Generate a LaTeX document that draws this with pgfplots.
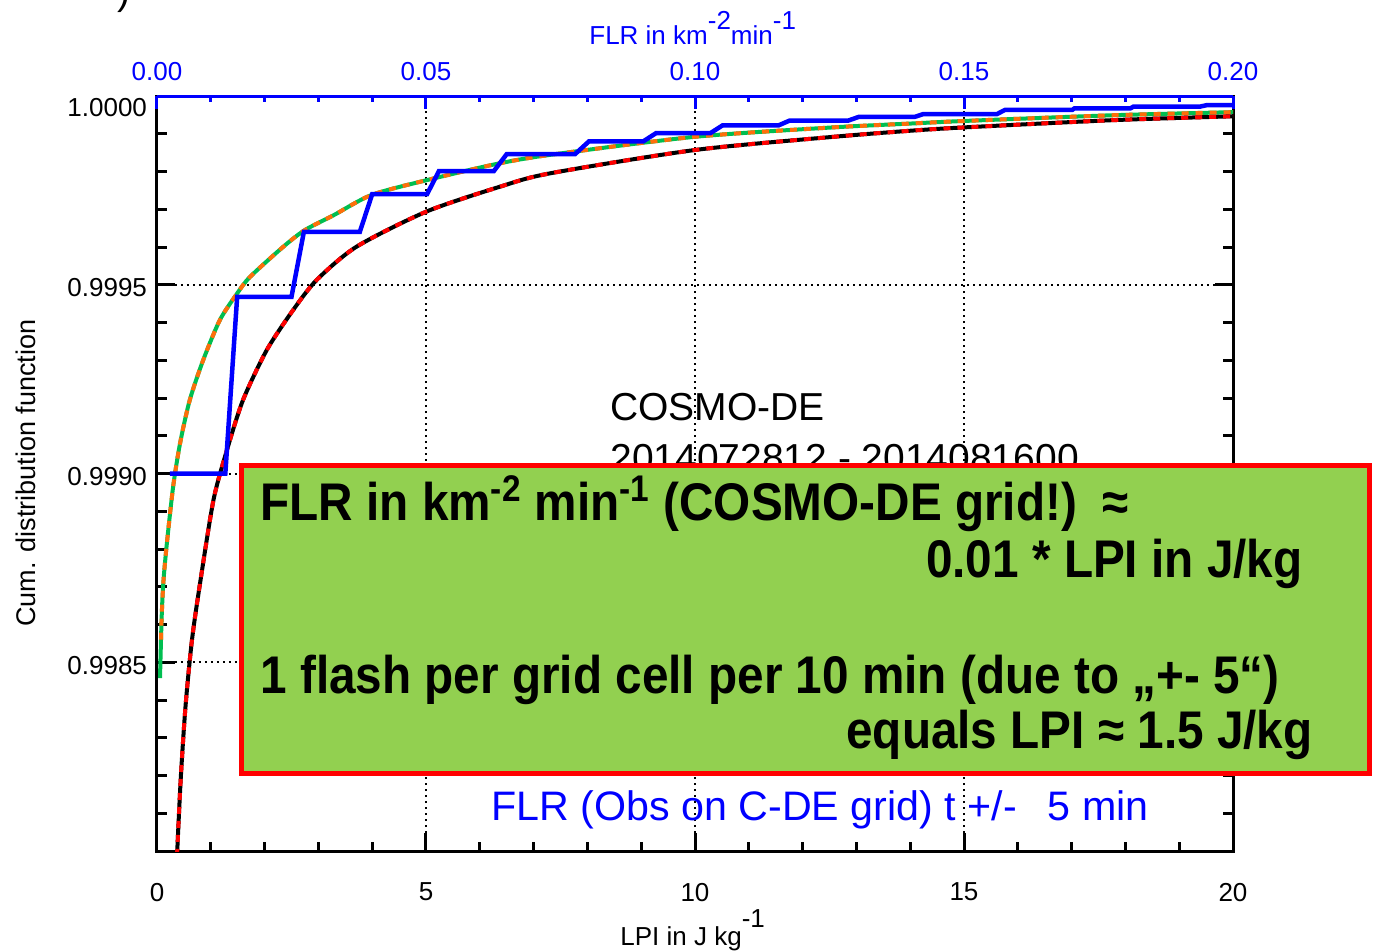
\documentclass[border=0pt]{standalone}
\usepackage{pgfplots}
\usepackage{pgfplotstable}
\pgfplotsset{compat=1.18}
\usepackage{fontspec}
\setmainfont{Liberation Sans}
\newfontfamily\boxfont{Liberation Sans}[FakeStretch=0.9]
\definecolor{cgreen}{RGB}{0,190,80}
\definecolor{corange}{RGB}{255,110,10}
\definecolor{cbox}{RGB}{146,208,80}
\definecolor{cblue}{RGB}{0,0,255}
\definecolor{cred}{RGB}{255,0,0}
\pgfplotstableread{
x y
0.056 0.998458
0.087 0.998621
0.12 0.998715
0.18 0.998810
0.30 0.998965
0.43 0.999081
0.61 0.999195
0.86 0.999301
1.17 0.999407
1.49 0.999477
1.73 0.999521
2.35 0.999601
2.75 0.999645
3.28 0.999684
3.99 0.999738
5.01 0.999777
6.31 0.999820
7.30 0.999844
10.0 0.999892
12.58 0.999917
14.0 0.999927
15.02 0.999934
17.76 0.999949
19.93 0.999957
20.0 0.999957
}\greendata
\pgfplotstableread{
x y
0.075 0.998560
0.087 0.998621
0.12 0.998715
0.18 0.998810
0.30 0.998965
0.43 0.999081
0.61 0.999195
0.86 0.999301
1.17 0.999407
1.49 0.999477
1.73 0.999521
2.35 0.999601
2.75 0.999645
3.28 0.999684
3.99 0.999738
5.01 0.999777
6.31 0.999820
7.30 0.999844
10.0 0.999892
12.58 0.999917
14.0 0.999927
15.02 0.999934
17.76 0.999949
19.93 0.999957
20.0 0.999957
}\orangedata
\pgfplotstableread{
x y
0.36 0.997950
0.44 0.998188
0.53 0.998383
0.65 0.998559
0.80 0.998709
1.05 0.998930
1.30 0.999062
1.60 0.999195
2.04 0.999327
2.53 0.999433
2.97 0.999513
3.71 0.999601
5.01 0.999694
6.38 0.999760
7.30 0.999795
10.0 0.999857
12.58 0.999892
14.0 0.999908
15.02 0.999917
17.76 0.999936
19.93 0.999946
20.0 0.999946
}\blackdata
\pgfplotstableread{
x y
0.24 0.999000
1.27 0.999000
1.49 0.999468
2.50 0.999468
2.73 0.999640
3.77 0.999640
4.00 0.999740
5.02 0.999740
5.24 0.999801
6.26 0.999801
6.50 0.999846
7.77 0.999846
8.03 0.999880
9.04 0.999880
9.28 0.999902
10.29 0.999902
10.51 0.999922
11.55 0.999922
11.76 0.999935
12.85 0.999935
13.05 0.999945
14.09 0.999945
14.24 0.999952
15.61 0.999952
15.76 0.999963
17.01 0.999963
17.05 0.999967
18.09 0.999967
18.15 0.999972
19.39 0.999972
19.52 0.999976
20.00 0.999976
}\bluedata
\begin{document}
\begin{tikzpicture}[x=0.5pt,y=-0.5pt]
\path[use as bounding box] (0,0) rectangle (1373,950);
% y is plotted as (CDF - 0.998) * 10000 so that the narrow range stays precise
\begin{axis}[
  at={(78.5pt,-425.5pt)}, anchor=south west, scale only axis,
  width=538pt, height=377.5pt,
  xmin=0, xmax=20, ymin=0, ymax=20,
  xtick={0,5,10,15,20}, xticklabels={0,5,10,15,20},
  minor xtick={1,2,3,4,6,7,8,9,11,12,13,14,16,17,18,19},
  ytick={5,10,15,20},
  yticklabels={0.9985,0.9990,0.9995,\raisebox{-4.5pt}[\height][\depth]{1.0000}},
  minor ytick={1,2,3,4,6,7,8,9,11,12,13,14,16,17,18,19},
  xtick pos=left, ytick pos=both,
  tick align=inside,
  major tick length=9pt, minor tick length=4.75pt,
  every tick/.style={black, line width=1.5pt},
  axis line style={line width=1.5pt},
  tick label style={font=\fontsize{13}{15}\selectfont},
  /pgf/number format/assume math mode=true,
  xticklabel style={yshift=-12.5pt},
  yticklabel style={yshift=-1.5pt, xshift=-1.5pt},
  scaled y ticks=false, scaled x ticks=false,
  grid=major,
  major grid style={black, line width=1pt, dash pattern=on 1pt off 2pt},
]
\addplot[cgreen, line width=2pt, smooth, tension=0.45] table[x=x, y expr={(\thisrow{y}-0.998)*10000}] {\greendata};
\addplot[corange, line width=2pt, smooth, tension=0.45, dash pattern=on 3.5pt off 3.5pt] table[x=x, y expr={(\thisrow{y}-0.998)*10000}] {\orangedata};
\addplot[black, line width=2pt, smooth, tension=0.45] table[x=x, y expr={(\thisrow{y}-0.998)*10000}] {\blackdata};
\addplot[cred, line width=2pt, smooth, tension=0.45, dash pattern=on 3.5pt off 3.5pt] table[x=x, y expr={(\thisrow{y}-0.998)*10000}] {\blackdata};
\addplot[cblue, line width=2.25pt] table[x=x, y expr={(\thisrow{y}-0.998)*10000}] {\bluedata};
\end{axis}
\begin{axis}[
  at={(78.5pt,-425.5pt)}, anchor=south west, scale only axis,
  width=538pt, height=377.5pt,
  xmin=0, xmax=0.2, ymin=0, ymax=1,
  axis x line*=top, axis y line=none,
  xtick={0,0.05,0.1,0.15,0.2}, xticklabels={0.00,0.05,0.10,0.15,0.20},
  minor xtick={0.01,0.02,0.03,0.04,0.06,0.07,0.08,0.09,0.11,0.12,0.13,0.14,0.16,0.17,0.18,0.19},
  tick align=inside,
  major tick length=6.5pt, minor tick length=3pt,
  every tick/.style={cblue, line width=1.5pt},
  axis line style={cblue, line width=1.5pt},
  xticklabel style={font=\fontsize{13}{15}\selectfont, text=cblue, yshift=4pt},
  /pgf/number format/assume math mode=true,
  scaled x ticks=false,
]
\end{axis}
% axis titles
\node[anchor=base west, text=cblue, font=\fontsize{13}{15}\selectfont, inner sep=0pt] at (589,44) {FLR in km\raisebox{7.5pt}{-2}min\raisebox{7.5pt}{-1}};
\node[anchor=base west, font=\fontsize{13}{15}\selectfont, inner sep=0pt] at (620,945) {LPI in J kg\raisebox{9pt}{-1}};
\node[anchor=base, rotate=90, font=\fontsize{13.5}{16}\selectfont, inner sep=0pt] at (35,473) {Cum. distribution function};
\node[anchor=base, font=\fontsize{19.5}{22}\selectfont, inner sep=0pt] at (124,4) {)};
% annotations
\node[anchor=base west, font=\fontsize{19.5}{22}\selectfont, inner sep=0pt] at (610,420) {COSMO-DE};
\node[anchor=base west, font=\fontsize{19.5}{22}\selectfont, inner sep=0pt] at (610,471) {2014072812 - 2014081600};
\draw[cred, line width=2.5pt, fill=cbox] (241.5,465.5) rectangle (1369.5,773.5);
\begin{scope}[every node/.style={inner sep=0pt, font=\boxfont\bfseries\fontsize{26.5}{30}\selectfont}]
\node[anchor=base west] at (260,520) {FLR in km\textsuperscript{-2} min\textsuperscript{-1} (COSMO-DE grid!)\hspace{13pt}≈};
\node[anchor=base east] at (1303,577) {0.01 * LPI in J/kg};
\node[anchor=base west] at (260,693) {1 flash per grid cell per 10 min (due to „+- 5“)};
\node[anchor=base east] at (1313,748) {equals LPI ≈ 1.5 J/kg};
\end{scope}
\node[anchor=base west, text=cblue, font=\fontsize{20.6}{23}\selectfont, inner sep=0pt] at (491,820) {FLR (Obs on C-DE grid) t +/-\hspace{15.5pt}5 min};
\end{tikzpicture}
\end{document}
